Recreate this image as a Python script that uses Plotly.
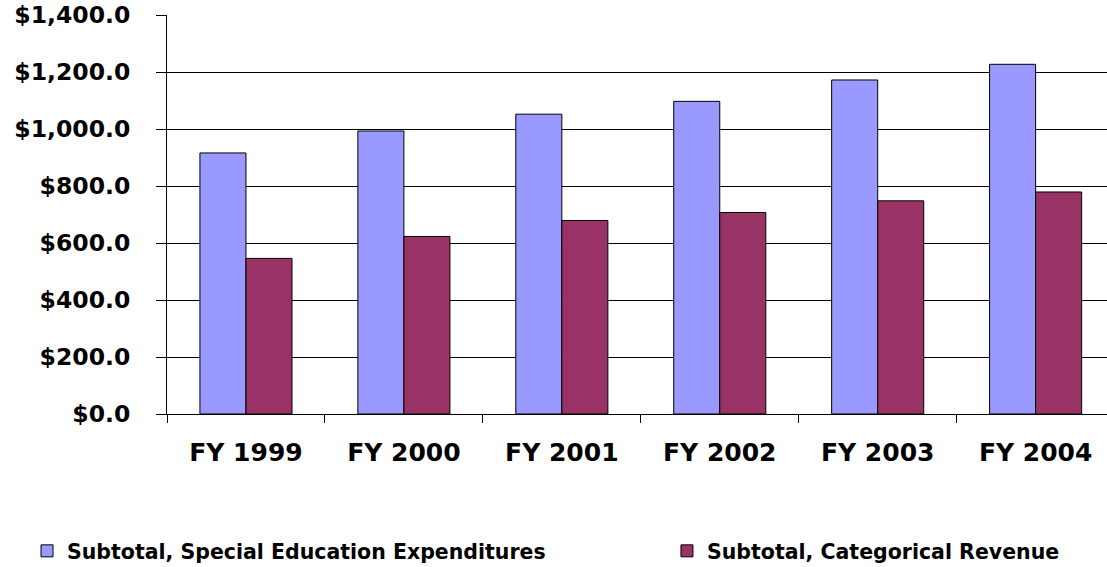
import plotly.graph_objects as go

categories = ["FY 1999", "FY 2000", "FY 2001", "FY 2002", "FY 2003", "FY 2004"]
special_ed_expenditures = [916, 993, 1052, 1097, 1172, 1227]
categorical_revenue = [546, 623, 679, 707, 748, 779]
series_names = ["Subtotal, Special Education Expenditures", "Subtotal, Categorical Revenue"]
y_ticks = [0, 200, 400, 600, 800, 1000, 1200, 1400]

FONT = "DejaVu Sans"

fig = go.Figure()
fig.add_trace(go.Bar(
    x=categories, y=special_ed_expenditures, name=series_names[0],
    marker=dict(color="#9999FF", line=dict(color="#000000", width=1)),
    legend="legend", showlegend=True,
))
fig.add_trace(go.Bar(
    x=categories, y=categorical_revenue, name=series_names[1],
    marker=dict(color="#993366", line=dict(color="#000000", width=1)),
    legend="legend2", showlegend=True,
))

legend_font = dict(family=FONT, size=20.5, color="black", weight="bold")

fig.update_layout(
    width=1107, height=567,
    showlegend=True,
    margin=dict(l=167, r=0, t=15, b=153, autoexpand=False),
    paper_bgcolor="white", plot_bgcolor="white",
    barmode="group", bargap=0.417, bargroupgap=0,
    font=dict(family=FONT, color="black"),
    legend=dict(
        orientation="h", xref="container", yref="container",
        x=0.0244, xanchor="left", y=0.0282, yanchor="middle",
        font=legend_font, bgcolor="rgba(0,0,0,0)", visible=True,
    ),
    legend2=dict(
        orientation="h", xref="container", yref="container",
        x=0.6025, xanchor="left", y=0.0282, yanchor="middle",
        font=legend_font, bgcolor="rgba(0,0,0,0)",
    ),
    xaxis=dict(
        type="category", range=[-0.5, 5.452], automargin=False,
        showline=True, linecolor="black", linewidth=1,
        ticks="outside", tickson="boundaries", ticklen=8, tickcolor="black",
        tickfont=dict(family=FONT, size=25, color="black", weight="bold"),
        ticklabelstandoff=16,
        showgrid=False,
    ),
    yaxis=dict(
        range=[0, 1400], tickvals=y_ticks, tickformat="$,.1f", automargin=False,
        showline=True, linecolor="black", linewidth=1,
        ticks="outside", ticklen=10, tickcolor="black",
        tickfont=dict(family=FONT, size=23.5, color="black", weight="bold"),
        ticklabelstandoff=21,
        showgrid=True, gridcolor="black", gridwidth=1,
        zeroline=False,
    ),
)

fig.write_html("out.html", config={"displayModeBar": False},
               post_script="document.body.style.margin='0';")
